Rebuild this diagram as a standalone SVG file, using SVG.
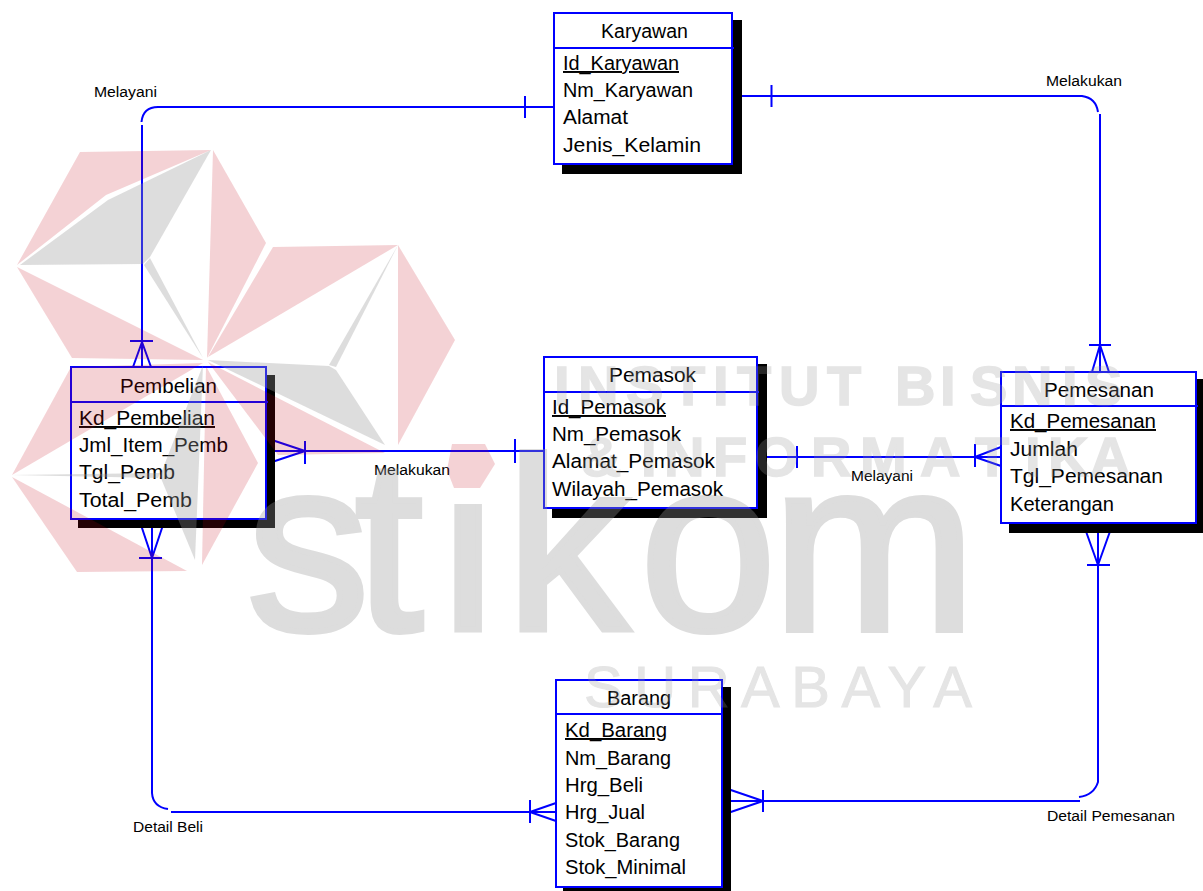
<svg xmlns="http://www.w3.org/2000/svg" width="1203" height="891" viewBox="0 0 1203 891">
<style>
text{font-family:"Liberation Sans",Arial,sans-serif;fill:#000}
.sh{fill:#000}
.bx{fill:#fff;stroke:#0000ff;stroke-width:2}
.dv{stroke:#0000ff;stroke-width:2}
.h,.a{font-size:19.5px}
.k{text-decoration:underline}
.l{font-size:15.5px}
#connectors path{fill:none;stroke:#0000ff;stroke-width:2}
.pk{fill:#c00818;opacity:.18}
.gy{fill:#999;opacity:.33}
.wm{fill:#999;stroke:#999;stroke-width:6;font-weight:400}
.wb{fill:#999;stroke:#999;stroke-width:1.500;font-weight:700}
.wl{fill:#999;font-weight:400;stroke:#999;stroke-width:1}
</style>
<defs>
<clipPath id="cut"><rect x="240" y="440" width="200" height="210"/><rect x="440" y="504" width="60" height="146"/><rect x="500" y="440" width="480" height="210"/></clipPath>
</defs>
<rect width="1203" height="891" fill="#fff"/>
<g id="connectors">
<path d="M554 107H158Q143 107 141.500 122M142 125V367M525 96V118M130 341H153M142 342L133 367M142 342L151 367"/>
<path d="M732 96H1082Q1096 98 1098 112M1100 114V372M771.500 85V107M1089 345H1111M1100 345L1092 372M1100 345L1109 372"/>
<path d="M266 451H544M305 441V464M305 451L266 438M305 451L266 464M515 439V463"/>
<path d="M757 457H1001M797 446V468M975 444V467M975 457L1001 447M975 457L1001 466"/>
<path d="M152 519V793Q153 807 168 809M171 812H556M139 558H162M152 558L139 519M152 558L165 519M530 800V823M530 812L556 803M530 812L556 821"/>
<path d="M1098 523V782Q1094 795 1079 797M1080 801H722M1087 565H1110M1098 565L1083 523M1098 565L1113 523M763 790V812M763 801L722 787M763 801L722 815"/>
</g>
<g id="labels">
<text class="l" x="94" y="97" textLength="63" lengthAdjust="spacingAndGlyphs">Melayani</text>
<text class="l" x="1046" y="86" textLength="76" lengthAdjust="spacingAndGlyphs">Melakukan</text>
<text class="l" x="374" y="475" textLength="76" lengthAdjust="spacingAndGlyphs">Melakukan</text>
<text class="l" x="851" y="481" textLength="62" lengthAdjust="spacingAndGlyphs">Melayani</text>
<text class="l" x="133" y="832" textLength="70" lengthAdjust="spacingAndGlyphs">Detail Beli</text>
<text class="l" x="1047" y="821" textLength="128" lengthAdjust="spacingAndGlyphs">Detail Pemesanan</text>
</g>
<g id="karyawan">
<rect class="sh" x="562" y="20" width="180" height="154"/>
<rect class="bx" x="554" y="13" width="178" height="151"/>
<line class="dv" x1="554" y1="48" x2="734" y2="48"/>
<text class="h" x="601" y="38" textLength="87" lengthAdjust="spacingAndGlyphs">Karyawan</text>
<text class="a k" x="563" y="70" textLength="116" lengthAdjust="spacingAndGlyphs">Id_Karyawan</text>
<text class="a" x="563" y="97" textLength="130" lengthAdjust="spacingAndGlyphs">Nm_Karyawan</text>
<text class="a" x="563" y="124" textLength="65" lengthAdjust="spacingAndGlyphs">Alamat</text>
<text class="a" x="563" y="152" textLength="138" lengthAdjust="spacingAndGlyphs">Jenis_Kelamin</text>
</g>
<g id="pembelian">
<rect class="sh" x="78" y="375" width="197" height="153"/>
<rect class="bx" x="71" y="367" width="195" height="152"/>
<line class="dv" x1="71" y1="402" x2="268" y2="402"/>
<text class="h" x="120" y="393" textLength="97" lengthAdjust="spacingAndGlyphs">Pembelian</text>
<text class="a k" x="79" y="425" textLength="136" lengthAdjust="spacingAndGlyphs">Kd_Pembelian</text>
<text class="a" x="79" y="452" textLength="149" lengthAdjust="spacingAndGlyphs">Jml_Item_Pemb</text>
<text class="a" x="79" y="479" textLength="96" lengthAdjust="spacingAndGlyphs">Tgl_Pemb</text>
<text class="a" x="79" y="507" textLength="113" lengthAdjust="spacingAndGlyphs">Total_Pemb</text>
</g>
<g id="pemasok">
<rect class="sh" x="552" y="364" width="215" height="154"/>
<rect class="bx" x="544" y="357" width="213" height="151"/>
<line class="dv" x1="544" y1="392" x2="759" y2="392"/>
<text class="h" x="609" y="382" textLength="87" lengthAdjust="spacingAndGlyphs">Pemasok</text>
<text class="a k" x="552" y="414" textLength="114" lengthAdjust="spacingAndGlyphs">Id_Pemasok</text>
<text class="a" x="552" y="441" textLength="129" lengthAdjust="spacingAndGlyphs">Nm_Pemasok</text>
<text class="a" x="552" y="468" textLength="163" lengthAdjust="spacingAndGlyphs">Alamat_Pemasok</text>
<text class="a" x="552" y="496" textLength="171" lengthAdjust="spacingAndGlyphs">Wilayah_Pemasok</text>
</g>
<g id="pemesanan">
<rect class="sh" x="1009" y="379" width="197" height="154"/>
<rect class="bx" x="1001" y="372" width="195" height="151"/>
<line class="dv" x1="1001" y1="406" x2="1198" y2="406"/>
<text class="h" x="1044" y="397" textLength="110" lengthAdjust="spacingAndGlyphs">Pemesanan</text>
<text class="a k" x="1010" y="428" textLength="146" lengthAdjust="spacingAndGlyphs">Kd_Pemesanan</text>
<text class="a" x="1010" y="456" textLength="68" lengthAdjust="spacingAndGlyphs">Jumlah</text>
<text class="a" x="1010" y="483" textLength="153" lengthAdjust="spacingAndGlyphs">Tgl_Pemesanan</text>
<text class="a" x="1010" y="511" textLength="104" lengthAdjust="spacingAndGlyphs">Keterangan</text>
</g>
<g id="barang">
<rect class="sh" x="563" y="687" width="168" height="204"/>
<rect class="bx" x="556" y="680" width="166" height="207"/>
<line class="dv" x1="556" y1="714" x2="722" y2="714"/>
<text class="h" x="607" y="705" textLength="64" lengthAdjust="spacingAndGlyphs">Barang</text>
<text class="a k" x="565" y="737" textLength="102" lengthAdjust="spacingAndGlyphs">Kd_Barang</text>
<text class="a" x="565" y="765" textLength="106" lengthAdjust="spacingAndGlyphs">Nm_Barang</text>
<text class="a" x="565" y="792" textLength="78" lengthAdjust="spacingAndGlyphs">Hrg_Beli</text>
<text class="a" x="565" y="819" textLength="80" lengthAdjust="spacingAndGlyphs">Hrg_Jual</text>
<text class="a" x="565" y="847" textLength="115" lengthAdjust="spacingAndGlyphs">Stok_Barang</text>
<text class="a" x="565" y="874" textLength="121" lengthAdjust="spacingAndGlyphs">Stok_Minimal</text>
</g>
<g id="watermark">
<polygon class="pk" points="80,152 211,150 106,195 17,265"/>
<polygon class="pk" points="17,267 203,360 72,358"/>
<polygon class="pk" points="213,150 266,243 207,358"/>
<polygon class="gy" points="211,150 150,257 143,264 20,265 108,200"/>
<polygon class="gy" points="150,258 144,265 203,358"/>
<polygon class="pk" points="273,247 398,245 208,357"/>
<polygon class="pk" points="398,245 455,340 398,445"/>
<polygon class="gy" points="208,360 329,366 336,370 385,445"/>
<polygon class="gy" points="398,245 329,365 336,367"/>
<polygon class="pk" points="208,362 385,453 278,455"/>
<polygon class="pk" points="71,367 203,363 12,475"/>
<polygon class="pk" points="12,477 187,571 77,572"/>
<polygon class="pk" points="206,366 258,463 202,565"/>
<polygon class="gy" points="203,365 160,476 195,560"/>
<polygon class="gy" points="12,475 160,473 158,478"/>
<polygon class="pk" points="452,444 485,444 495,464 480,488 454,488 447,470"/>
<g opacity=".33">
<g clip-path="url(#cut)"><text class="wm" font-size="245" x="247 355 441 506 640 772" y="630">stikom</text></g>
</g>
<g opacity=".25">
<text class="wb" font-size="56" x="554 578 626 671 713 737 779 827 869 895 940 970 1012 1062 1085" y="405">INSTITUT BISNIS</text>
<text class="wb" font-size="56" x="581 620 641 664 713 755 811 860 920 975 1025 1048 1090" y="476">&amp; INFORMATIKA</text>
<text class="wl" font-size="58" x="584" y="707" textLength="388">SURABAYA</text>
</g>
</g>
</svg>
